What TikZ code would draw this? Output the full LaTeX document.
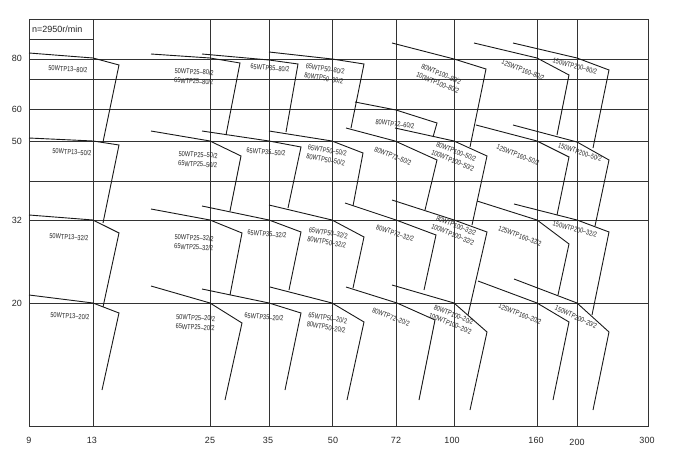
\documentclass[tikz,border=0pt]{standalone}
\usepackage{fontspec}
\setmainfont{Liberation Sans}
\newcommand\lbt[1]{\scalebox{0.78}[1]{#1}}
\begin{document}
\begin{tikzpicture}[x=1pt,y=-1pt,
  gridline/.style={draw=black!80,line width=0.9pt},
  curve/.style={draw=black!90,line width=0.9pt,line join=miter},
  lbl/.style={font=\fontsize{7.2}{9.4}\selectfont,text=black!85,inner sep=0pt,align=center},
  axl/.style={font=\fontsize{9}{10}\selectfont,text=black!85,inner sep=0pt}]
\useasboundingbox[fill=white] (0,0) rectangle (680,458);
% frame and grid
\draw[gridline] (29,19) rectangle (648,426);
\draw[gridline] (29,39) -- (93,39);
\foreach \yy in {59,79,109,141,181,220,303} \draw[gridline] (29,\yy) -- (648,\yy);
\foreach \xx in {93,210,269,332,396,454,537,577} \draw[gridline] (\xx,19) -- (\xx,426);
\node[axl,anchor=west] (nlab) at (32,29) {n=2950r/min};
% y axis labels
\node[axl] (y80) at (17,58) {80};
\node[axl] (y60) at (17,109) {60};
\node[axl] (y50) at (17,141) {50};
\node[axl] (y32) at (17,220) {32};
\node[axl] (y20) at (17,303) {20};
% x axis labels
\node[axl] (x9) at (29,440) {9};
\node[axl] (x13) at (92,440) {13};
\node[axl] (x25) at (210,440) {25};
\node[axl] (x35) at (268,440) {35};
\node[axl] (x50) at (333,440) {50};
\node[axl] (x72) at (396,440) {72};
\node[axl] (x100) at (452,440) {100};
\node[axl] (x160) at (536,440) {160};
\node[axl] (x200) at (577,442) {200};
\node[axl] (x300) at (647,440) {300};
% column 13
\draw[curve] (29,53) -- (93,58) -- (119,65) -- (103,142);
\draw[curve] (29,138) -- (93,141) -- (119,145) -- (103,223);
\draw[curve] (29,215) -- (93,220) -- (119,233) -- (103,307);
\draw[curve] (29,295) -- (93,303) -- (119,313) -- (102,390);
\node[lbl,rotate=-3] (l13a) at (68,69) {\lbt{50WTP13–80/2}};
\node[lbl,rotate=-3] (l13b) at (72,152) {\lbt{50WTP13–50/2}};
\node[lbl,rotate=-3] (l13c) at (69,237) {\lbt{50WTP13–32/2}};
\node[lbl,rotate=-3] (l13d) at (70,316) {\lbt{50WTP13–20/2}};
% column 25
\draw[curve] (151,54) -- (210,58) -- (240,63) -- (226,135);
\draw[curve] (151,131) -- (210,141) -- (241,156) -- (230,211);
\draw[curve] (151,209) -- (210,220) -- (242,233) -- (230,295);
\draw[curve] (151,286) -- (210,303) -- (242,323) -- (225,400);
\node[lbl,rotate=-3] (l25a) at (194,76.5) {\lbt{50WTP25–80/2}\\\lbt{65WTP25–80/2}};
\node[lbl,rotate=-3] (l25b) at (198,159.5) {\lbt{50WTP25–50/2}\\\lbt{65WTP25–50/2}};
\node[lbl,rotate=-3] (l25c) at (194,242.5) {\lbt{50WTP25–32/2}\\\lbt{65WTP25–32/2}};
\node[lbl,rotate=-3] (l25d) at (195.5,322.5) {\lbt{50WTP25–20/2}\\\lbt{65WTP25–20/2}};
% column 35
\draw[curve] (202,54) -- (269,60) -- (298,64) -- (286,132);
\draw[curve] (202,131) -- (269,141) -- (301,147) -- (288,208);
\draw[curve] (202,206) -- (269,220) -- (301,232) -- (289,290);
\draw[curve] (202,289) -- (269,303) -- (301,313) -- (285,390);
\node[lbl,rotate=-5] (l35a) at (270,68) {\lbt{65WTP35–80/2}};
\node[lbl,rotate=-5] (l35b) at (266,152) {\lbt{65WTP35–50/2}};
\node[lbl,rotate=-5] (l35c) at (267,234) {\lbt{65WTP35–32/2}};
\node[lbl,rotate=-5] (l35d) at (264,317) {\lbt{65WTP35–20/2}};
% column 50
\draw[curve] (269,52) -- (332,59) -- (364,64) -- (351,128);
\draw[curve] (269,131) -- (332,141) -- (363,153) -- (353,206);
\draw[curve] (269,205) -- (332,220) -- (364,237) -- (353,288);
\draw[curve] (270,287) -- (332,303) -- (364,322) -- (347,400);
\node[lbl,rotate=-9] (l50a) at (324.5,73.5) {\lbt{65WTP50–80/2}\\\lbt{80WTP50–80/2}};
\node[lbl,rotate=-10] (l50b) at (326.5,155) {\lbt{65WTP50–50/2}\\\lbt{80WTP50–50/2}};
\node[lbl,rotate=-10] (l50c) at (327.5,237.5) {\lbt{65WTP50–32/2}\\\lbt{80WTP50–32/2}};
\node[lbl,rotate=-10] (l50d) at (327,322.5) {\lbt{65WTP50–20/2}\\\lbt{80WTP50–20/2}};
% column 72
\draw[curve] (355,102) -- (396,110) -- (437,123) -- (433,137);
\draw[curve] (346,128) -- (395,141) -- (437,160) -- (425,210);
\draw[curve] (345,203) -- (396,220) -- (436,235) -- (424,290);
\draw[curve] (346,287) -- (397,303) -- (435,320) -- (419,400);
\node[lbl,rotate=-7] (l72a) at (395,124) {\lbt{80WTP72–60/2}};
\node[lbl,rotate=-22] (l72b) at (393,156) {\lbt{80WTP72–50/2}};
\node[lbl,rotate=-18] (l72c) at (395,233) {\lbt{80WTP72–32/2}};
\node[lbl,rotate=-20] (l72d) at (391,317) {\lbt{80WTP72–20/2}};
% column 100
\draw[curve] (392,43) -- (454,59) -- (486,69) -- (470,147);
\draw[curve] (395,128) -- (454,141) -- (487,156) -- (472,225);
\draw[curve] (392,200) -- (454,220) -- (487,232) -- (468,315);
\draw[curve] (392,285) -- (454,303) -- (487,332) -- (470,410);
\node[lbl,rotate=-22] (l100a) at (439.5,78.5) {\lbt{80WTP100–80/2}\\\lbt{100WTP100–80/2}};
\node[lbl,rotate=-22] (l100b) at (454.5,156) {\lbt{80WTP100–50/2}\\\lbt{100WTP100–50/2}};
\node[lbl,rotate=-22] (l100c) at (454.5,230) {\lbt{80WTP100–32/2}\\\lbt{100WTP100–32/2}};
\node[lbl,rotate=-22] (l100d) at (452,319) {\lbt{80WTP100–20/2}\\\lbt{100WTP100–20/2}};
% column 160
\draw[curve] (474,43) -- (537,58) -- (569,75) -- (557,135);
\draw[curve] (476,125) -- (537,141) -- (569,157) -- (557,215);
\draw[curve] (477,201) -- (537,220) -- (569,244) -- (558,295);
\draw[curve] (478,281) -- (537,303) -- (569,322) -- (553,400);
\node[lbl,rotate=-22] (l160a) at (523,70) {\lbt{125WTP160–80/2}};
\node[lbl,rotate=-22] (l160b) at (518,155) {\lbt{125WTP160–50/2}};
\node[lbl,rotate=-20] (l160c) at (520,236) {\lbt{125WTP160–32/2}};
\node[lbl,rotate=-22] (l160d) at (520,314) {\lbt{125WTP160–20/2}};
% column 200
\draw[curve] (513,43) -- (577,58) -- (609,70) -- (593,148);
\draw[curve] (513,125) -- (577,142) -- (609,160) -- (595,226);
\draw[curve] (514,204) -- (577,220) -- (609,232) -- (592,315);
\draw[curve] (514,279) -- (577,303) -- (609,332) -- (593,410);
\node[lbl,rotate=-15] (l200a) at (575,66) {\lbt{150WTP200–80/2}};
\node[lbl,rotate=-18] (l200b) at (580,152) {\lbt{150WTP200–50/2}};
\node[lbl,rotate=-15] (l200c) at (575,229) {\lbt{150WTP200–32/2}};
\node[lbl,rotate=-25] (l200d) at (576,317) {\lbt{150WTP200–20/2}};
\end{tikzpicture}
\end{document}
